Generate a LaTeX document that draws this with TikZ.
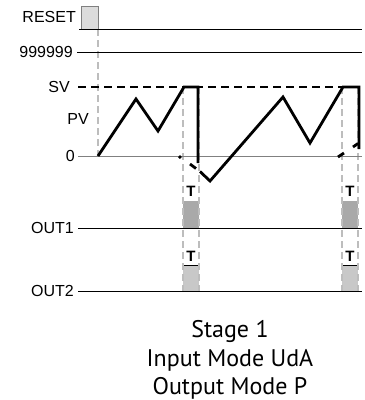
\documentclass[tikz,border=0pt]{standalone}
\usepackage{fontspec}
\setmainfont{Liberation Sans}
\newfontfamily\captionfont{PT Sans}
\definecolor{guidegray}{HTML}{BDBDBD}
\definecolor{resetgray}{HTML}{DCDCDC}
\definecolor{outonegray}{HTML}{A9A9A9}
\definecolor{outtwogray}{HTML}{C8C8C8}

\begin{document}
\begin{tikzpicture}[x=1pt, y=-1pt,
    lbl/.style={anchor=east, inner sep=0pt, font=\fontsize{16}{19}\selectfont},
    level/.style={line width=0.9pt},
    guide/.style={draw=guidegray, line width=1.2pt, dash pattern=on 7pt off 4pt},
    trace/.style={line width=2.8pt, line join=miter},
    tmark/.style={inner sep=0pt, font=\bfseries\fontsize{15}{17}\selectfont},
    capt/.style={anchor=base, inner sep=0pt, font=\captionfont\fontsize{24}{28}\selectfont}]
  \useasboundingbox (0,0) rectangle (365,400);
  % Reset pulse.
  \filldraw[fill=resetgray, draw=gray, line width=0.8pt] (81,6) rectangle (98,29);
  % Output pulses of width T.
  \foreach \xa/\xb in {183/199, 342/358} {
    \fill[outonegray] (\xa,201) rectangle (\xb,228);
    \fill[outtwogray] (\xa,265) rectangle (\xb,291);
    \draw[level] (\xa,265) -- (\xb,265);
    \node[tmark] (ta\xa) at ({(\xa+\xb)/2},191) {T};
    \node[tmark] (tb\xa) at ({(\xa+\xb)/2},256) {T};
  }
  % Gray guides.
  \draw[guide] (98,29) -- (98,156);
  \foreach \x in {183,199,342,358}
    \draw[guide] (\x,87) -- (\x,291);
  % Levels.
  \node[lbl] (reset) at (76,17)  {RESET};
  \node[lbl] (maxv)  at (73,52)  {999999};
  \node[lbl] (sv)    at (70,87)  {SV};
  \node[lbl] (pv)    at (89,119) {PV};
  \node[lbl] (zero)  at (75,156) {0};
  \node[lbl] (outa)  at (74,228) {OUT1};
  \node[lbl] (outb)  at (74,291) {OUT2};
  \draw[level] (79,29) -- (362,29);
  \draw[level] (77,52) -- (362,52);
  \draw[line width=1.8pt, dash pattern=on 8pt off 5pt] (78,87) -- (362,87);
  \draw[level, gray] (78,156) -- (362,156);
  \draw[level] (78,228) -- (362,228);
  \draw[level] (78,291) -- (362,291);
  % Process value.
  \draw[trace] (98,156) -- (136,99) -- (158,131) -- (184,87) -- (198,87) -- (198,163);
  \draw[trace] (200,171.5) -- (210,181) -- (283,97) -- (310,143) -- (343,87)
    -- (359,87) -- (359,149);
  \draw[trace] (179,158) -- (181,156);
  \draw[trace] (190,164) -- (196,168.5);
  \draw[trace] (338,157) -- (344,153);
  \draw[trace] (353,147) -- (358,143.5);
  % Caption.
  \node[capt] (stage) at (230,337) {Stage 1};
  \node[capt] (imode) at (230,366) {Input Mode UdA};
  \node[capt] (omode) at (230,394) {Output Mode P};
\end{tikzpicture}
\end{document}
